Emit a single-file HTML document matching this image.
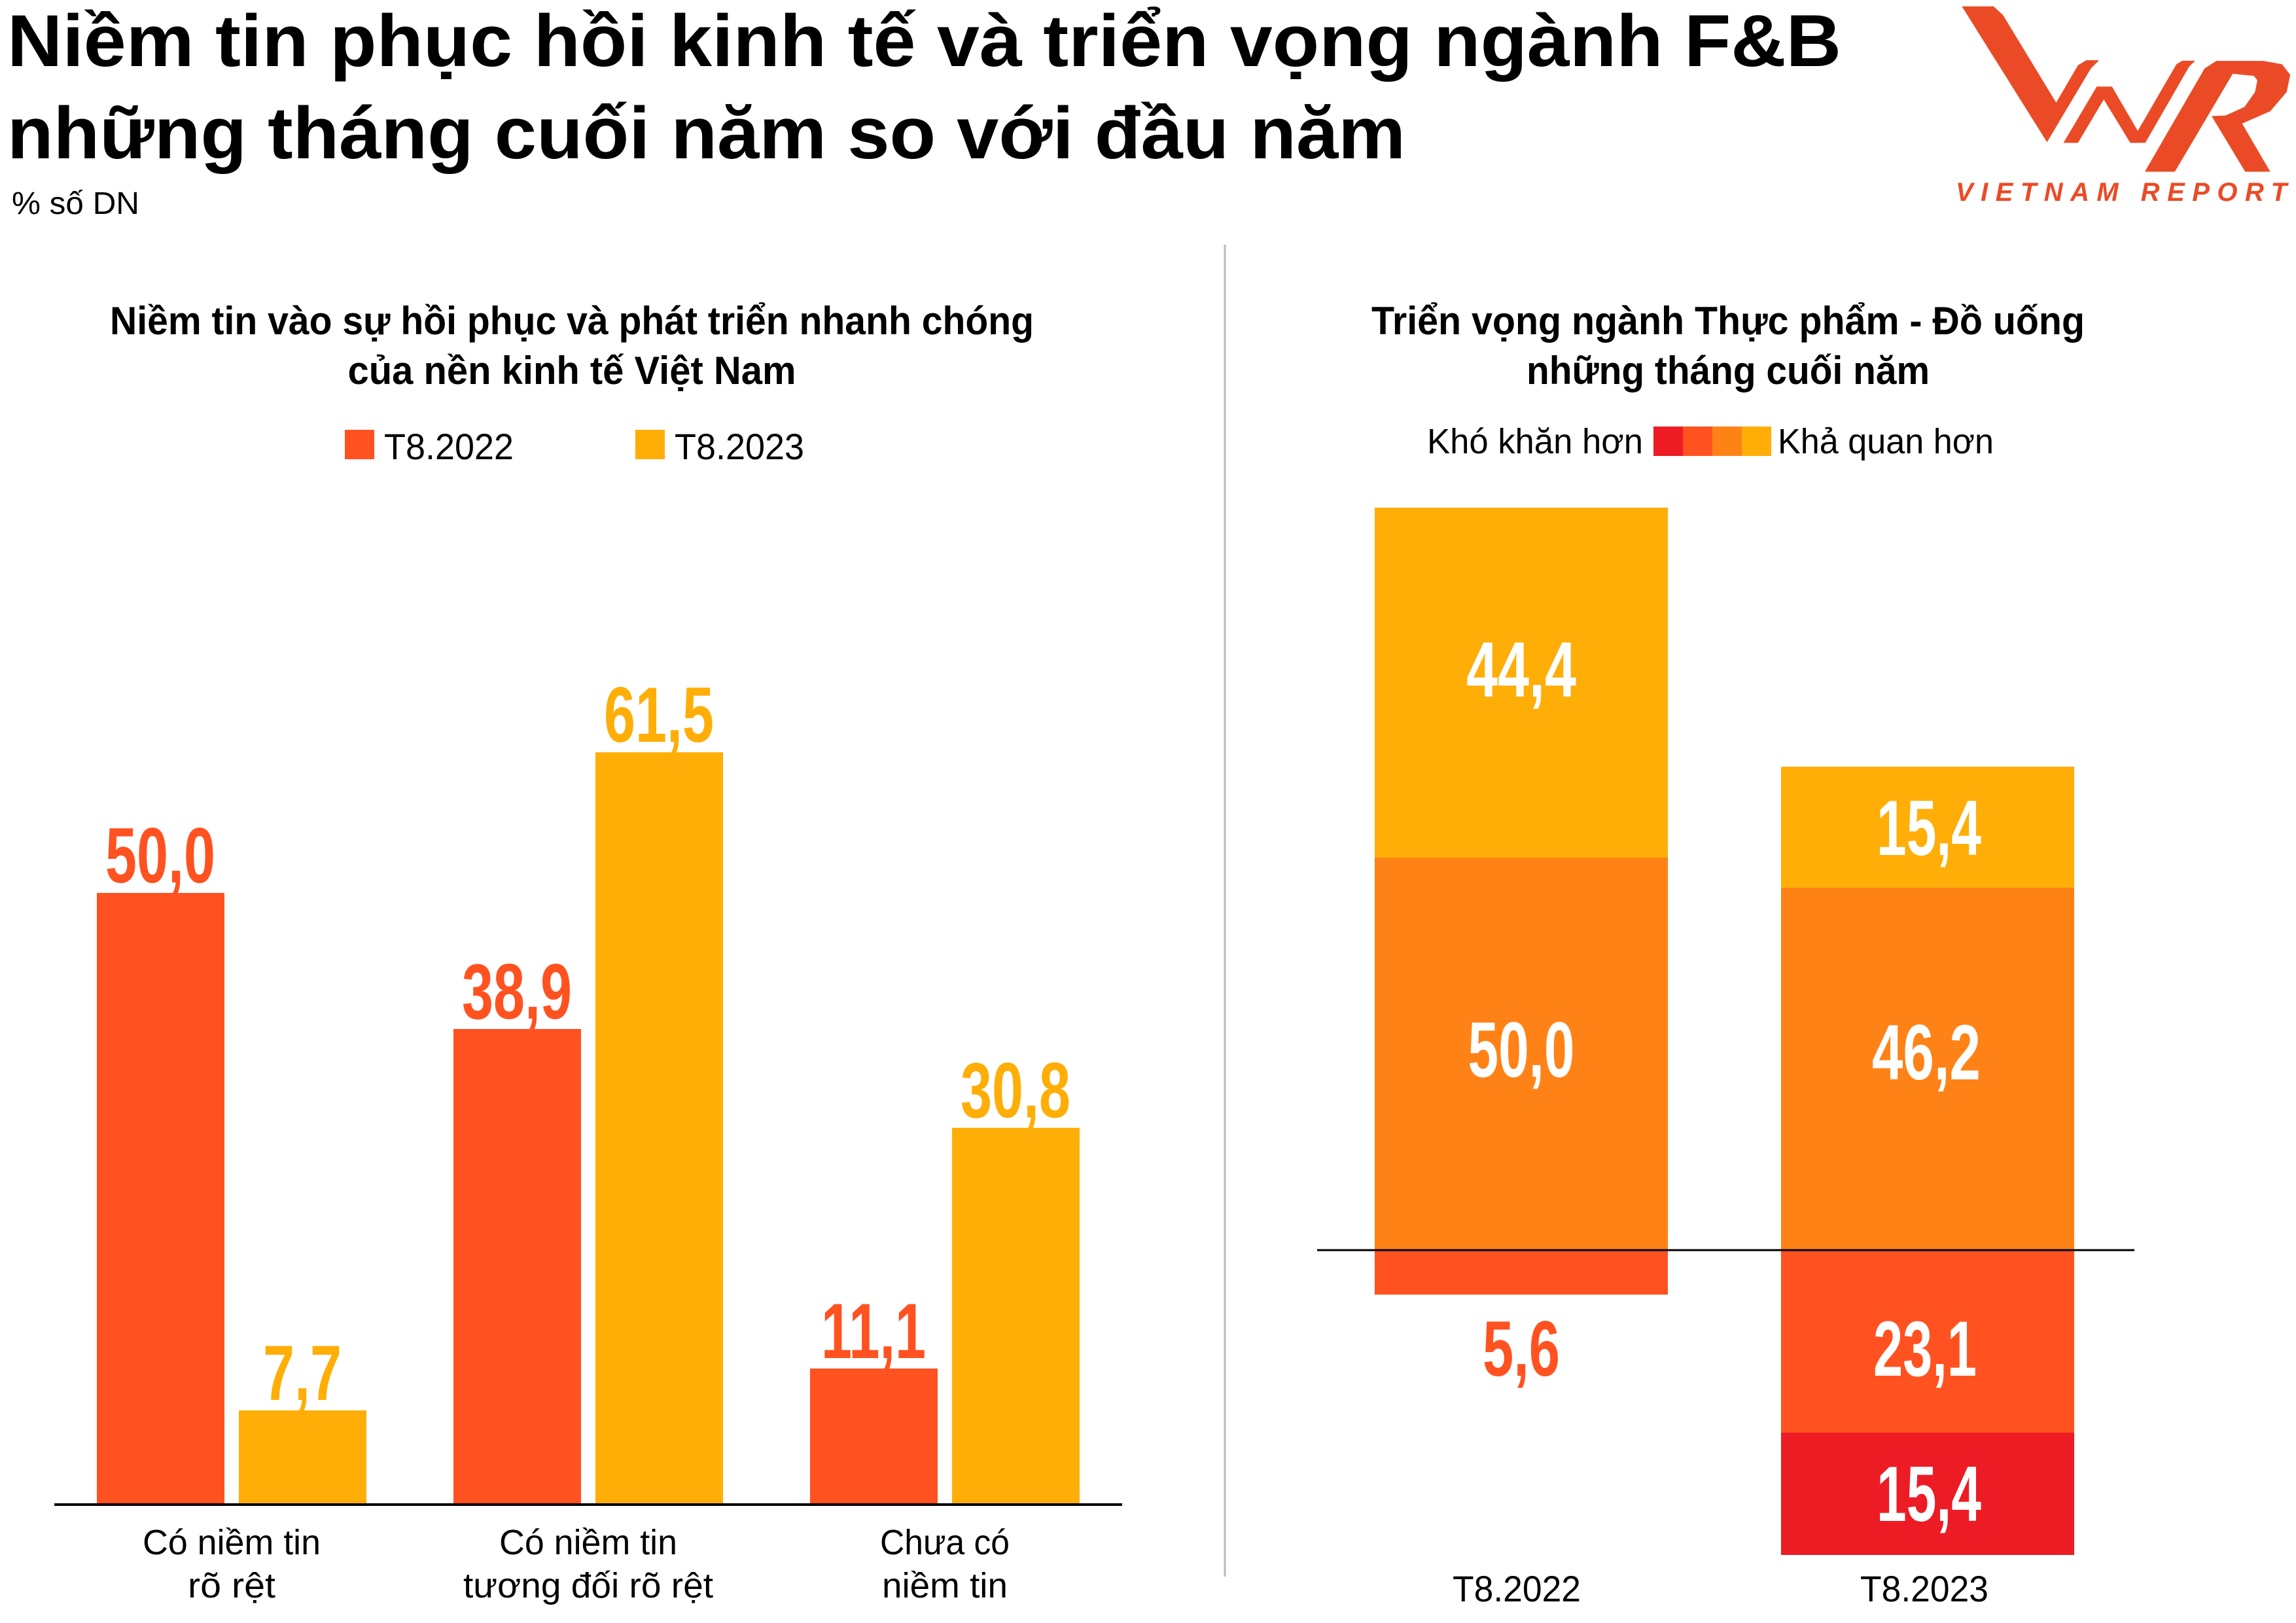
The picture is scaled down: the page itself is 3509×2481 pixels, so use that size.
<!DOCTYPE html>
<html><head><meta charset="utf-8"><style>html,body{margin:0;padding:0;background:#fff}svg{display:block}</style></head>
<body>
<svg xmlns="http://www.w3.org/2000/svg" width="3509" height="2481" viewBox="0 0 3509 2481">
<rect width="3509" height="2481" fill="#fff"/>
<g font-family="Liberation Sans, DejaVu Sans, sans-serif" fill="#000">
<text x="11" y="101" font-size="112" font-weight="bold" textLength="2803" lengthAdjust="spacingAndGlyphs">Niềm tin phục hồi kinh tế và triển vọng ngành F&amp;B</text>
<text x="11" y="242" font-size="112" font-weight="bold" textLength="2137" lengthAdjust="spacingAndGlyphs">những tháng cuối năm so với đầu năm</text>
<text x="18" y="327" font-size="48" textLength="195" lengthAdjust="spacingAndGlyphs">% số DN</text>
</g>
<!-- logo -->
<g fill="#EA4B26" transform="translate(2950,0) scale(0.3584,0.3269)">
<polygon points="135,30 270,30 310,70 537,480 630,305 665,282 720,282 685,320 498,665"/>
<polygon points="568,668 710,405 775,405 885,612 1050,300 1075,284 1130,284 1105,310 917,668 853,668 740,465 630,668"/>
<polygon points="915,803 1170,320 1220,285 1420,285 1500,300 1535,350 1520,430 1450,520 1330,578 1450,803 1343,803 1200,543 1260,540 1340,500 1385,430 1395,375 1380,355 1290,345 1043,803"/>
</g>
<text x="2989" y="307" font-family="Liberation Sans, sans-serif" font-size="40" font-weight="bold" font-style="italic" fill="#EA4B26" textLength="506" lengthAdjust="spacing">VIETNAM REPORT</text>
<line x1="1872" y1="374" x2="1872" y2="2410" stroke="#bbb" stroke-width="3"/>
<!-- left chart -->
<g font-family="Liberation Sans, sans-serif" text-anchor="middle">
<text x="874" y="511" font-size="60" font-weight="bold" textLength="1412" lengthAdjust="spacingAndGlyphs">Niềm tin vào sự hồi phục và phát triển nhanh chóng</text>
<text x="874" y="587" font-size="60" font-weight="bold" textLength="685" lengthAdjust="spacingAndGlyphs">của nền kinh tế Việt Nam</text>
</g>
<rect x="527" y="657" width="45" height="45" fill="#FF5220"/>
<rect x="971" y="657" width="45" height="45" fill="#FFAE08"/>
<g font-family="Liberation Sans, sans-serif" font-size="56">
<text x="587" y="702" textLength="198" lengthAdjust="spacingAndGlyphs">T8.2022</text>
<text x="1031" y="702" textLength="198" lengthAdjust="spacingAndGlyphs">T8.2023</text>
</g>
<rect x="148" y="1365" width="195" height="935" fill="#FF5220"/>
<rect x="365" y="2156" width="195" height="144" fill="#FFAE08"/>
<rect x="693" y="1573" width="195" height="727" fill="#FF5220"/>
<rect x="910" y="1150" width="195" height="1150" fill="#FFAE08"/>
<rect x="1238" y="2092" width="195" height="208" fill="#FF5220"/>
<rect x="1455" y="1724" width="195" height="576" fill="#FFAE08"/>
<line x1="83" y1="2300" x2="1715" y2="2300" stroke="#000" stroke-width="4"/>
<g font-family="Liberation Sans Narrow, Liberation Sans, sans-serif" font-weight="bold" font-size="120" text-anchor="middle">
<text x="245" y="1349" fill="#FF5220" textLength="168" lengthAdjust="spacingAndGlyphs">50,0</text>
<text x="462" y="2140" fill="#FFAE08" textLength="120" lengthAdjust="spacingAndGlyphs">7,7</text>
<text x="790" y="1557" fill="#FF5220" textLength="168" lengthAdjust="spacingAndGlyphs">38,9</text>
<text x="1007" y="1134" fill="#FFAE08" textLength="168" lengthAdjust="spacingAndGlyphs">61,5</text>
<text x="1335" y="2076" fill="#FF5220" textLength="160" lengthAdjust="spacingAndGlyphs">11,1</text>
<text x="1552" y="1708" fill="#FFAE08" textLength="168" lengthAdjust="spacingAndGlyphs">30,8</text>
</g>
<g font-family="Liberation Sans, sans-serif" font-size="54" text-anchor="middle">
<text x="354" y="2376" textLength="272" lengthAdjust="spacingAndGlyphs">Có niềm tin</text>
<text x="354" y="2442" textLength="134" lengthAdjust="spacingAndGlyphs">rõ rệt</text>
<text x="899" y="2376" textLength="272" lengthAdjust="spacingAndGlyphs">Có niềm tin</text>
<text x="899" y="2442" textLength="382" lengthAdjust="spacingAndGlyphs">tương đối rõ rệt</text>
<text x="1444" y="2376" textLength="198" lengthAdjust="spacingAndGlyphs">Chưa có</text>
<text x="1444" y="2442" textLength="192" lengthAdjust="spacingAndGlyphs">niềm tin</text>
</g>
<!-- right chart -->
<g font-family="Liberation Sans, sans-serif" text-anchor="middle">
<text x="2641" y="511" font-size="60" font-weight="bold" textLength="1090" lengthAdjust="spacingAndGlyphs">Triển vọng ngành Thực phẩm - Đồ uống</text>
<text x="2641" y="587" font-size="60" font-weight="bold" textLength="616" lengthAdjust="spacingAndGlyphs">những tháng cuối năm</text>
</g>
<g font-family="Liberation Sans, sans-serif" font-size="54">
<text x="2511" y="693" text-anchor="end" textLength="330" lengthAdjust="spacingAndGlyphs">Khó khăn hơn</text>
<text x="2717" y="693" textLength="330" lengthAdjust="spacingAndGlyphs">Khả quan hơn</text>
</g>
<rect x="2527" y="652" width="45" height="45" fill="#ED1C24"/>
<rect x="2572" y="652" width="45" height="45" fill="#FF5220"/>
<rect x="2617" y="652" width="45" height="45" fill="#FF8217"/>
<rect x="2662" y="652" width="45" height="45" fill="#FFAE08"/>
<rect x="2101" y="776" width="448" height="536" fill="#FFAE08"/>
<rect x="2101" y="1311" width="448" height="601" fill="#FF8217"/>
<rect x="2101" y="1912" width="448" height="67" fill="#FF5220"/>
<rect x="2722" y="1172" width="448" height="186" fill="#FFAE08"/>
<rect x="2722" y="1357" width="448" height="555" fill="#FF8217"/>
<rect x="2722" y="1912" width="448" height="278" fill="#FF5220"/>
<rect x="2722" y="2190" width="448" height="187" fill="#ED1C24"/>
<line x1="2013" y1="1911" x2="3262" y2="1911" stroke="#000" stroke-width="3"/>
<g font-family="Liberation Sans Narrow, Liberation Sans, sans-serif" font-weight="bold" font-size="120" text-anchor="middle" fill="#fff">
<text x="2325" y="1065" textLength="168" lengthAdjust="spacingAndGlyphs">44,4</text>
<text x="2325" y="1646" textLength="163" lengthAdjust="spacingAndGlyphs">50,0</text>
<text x="2325" y="2103" fill="#FF5220" textLength="118" lengthAdjust="spacingAndGlyphs">5,6</text>
<text x="2948" y="1307" textLength="160" lengthAdjust="spacingAndGlyphs">15,4</text>
<text x="2944" y="1650" textLength="166" lengthAdjust="spacingAndGlyphs">46,2</text>
<text x="2942" y="2103" textLength="158" lengthAdjust="spacingAndGlyphs">23,1</text>
<text x="2948" y="2325" textLength="160" lengthAdjust="spacingAndGlyphs">15,4</text>
</g>
<g font-family="Liberation Sans, sans-serif" font-size="56" text-anchor="middle">
<text x="2318" y="2448" textLength="196" lengthAdjust="spacingAndGlyphs">T8.2022</text>
<text x="2941" y="2448" textLength="196" lengthAdjust="spacingAndGlyphs">T8.2023</text>
</g>
</svg>
</body></html>
